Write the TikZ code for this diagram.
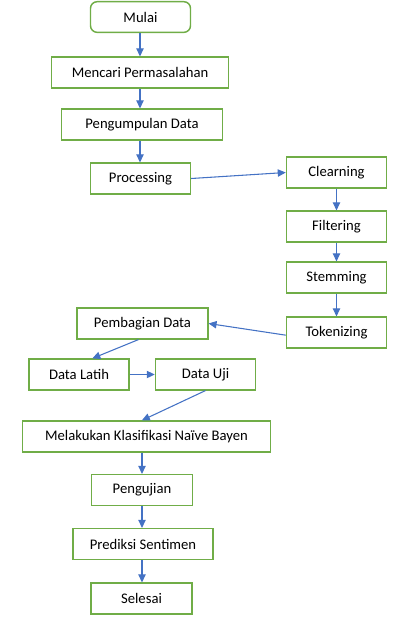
\documentclass[tikz,border=0pt]{standalone}
\usepackage{fontspec}
\setmainfont{Carlito}
\usetikzlibrary{arrows.meta}
\definecolor{boxgreen}{HTML}{70AD47}
\definecolor{arrowblue}{HTML}{4472C4}
\tikzset{
    box/.style={draw=boxgreen, line width=1.1pt, fill=white, inner sep=0pt,
        font=\fontsize{11}{13}\selectfont},
    flow/.style={-{Triangle[width=5.5pt,length=6pt]}, draw=arrowblue, line width=0.8pt}
}
\begin{document}
\begin{tikzpicture}[x=0.75pt, y=-0.75pt]
    \useasboundingbox (0, 0) rectangle (406, 626);
    % main column
    \node[box, rounded corners=5pt, minimum width=75pt, minimum height=23pt] (mulai) at (140.5, 17) {Mulai};
    \node[box, minimum width=133pt, minimum height=23pt] (cari) at (140, 72.5) {Mencari Permasalahan};
    \node[box, minimum width=121pt, minimum height=23pt] (kumpul) at (142, 124.5) {Pengumpulan Data};
    \node[box, minimum width=75pt, minimum height=23pt] (proses) at (140.5, 178.5) {Processing};
    % preprocessing column
    \node[box, minimum width=75pt, minimum height=23pt] (clear) at (336.5, 172.5) {Clearning};
    \node[box, minimum width=75pt, minimum height=23pt] (filter) at (336.5, 226.5) {Filtering};
    \node[box, minimum width=75pt, minimum height=23pt] (stem) at (336.5, 277.5) {Stemming};
    \node[box, minimum width=75pt, minimum height=23pt] (token) at (336.5, 332.5) {Tokenizing};
    % data split
    \node[box, minimum width=98pt, minimum height=23pt] (bagi) at (142.5, 323.5) {Pembagian Data};
    \node[box, minimum width=75pt, minimum height=23pt] (latih) at (79, 374.5) {Data Latih};
    \node[box, minimum width=75pt, minimum height=23pt] (uji) at (205.5, 374.5) {Data Uji};
    % classification and end
    \node[box, minimum width=186pt, minimum height=23pt] (klasifikasi) at (146.5, 436.5) {Melakukan Klasifikasi Naïve Bayen};
    \node[box, minimum width=76pt, minimum height=23pt] (pengujian) at (142, 490) {Pengujian};
    \node[box, minimum width=105pt, minimum height=23pt] (prediksi) at (143, 544) {Prediksi Sentimen};
    \node[box, minimum width=76pt, minimum height=23pt] (selesai) at (141.5, 598.5) {Selesai};

    \draw[flow] (mulai.south -| cari.north) -- (cari.north);
    \draw[flow] (cari.south) -- (cari.south |- kumpul.north);
    \draw[flow] (cari.south |- kumpul.south) -- (cari.south |- proses.north);
    \draw[flow] (proses.east) -- (clear.west);
    \draw[flow] (clear) -- (filter);
    \draw[flow] (filter) -- (stem);
    \draw[flow] (stem) -- (token);
    \draw[flow] ([yshift=-2pt]token.west) -- (bagi.east);
    \draw[flow] ([xshift=-3pt]bagi.south) -- ([xshift=10pt]latih.north);
    \draw[flow] (latih) -- (uji);
    \draw[flow] (uji.south) -- ([xshift=-3.5pt]klasifikasi.north);
    \draw[flow] (pengujian.north |- klasifikasi.south) -- (pengujian.north);
    \draw[flow] (pengujian) -- (pengujian |- prediksi.north);
    \draw[flow] (pengujian |- prediksi.south) -- (pengujian |- selesai.north);
\end{tikzpicture}
\end{document}
